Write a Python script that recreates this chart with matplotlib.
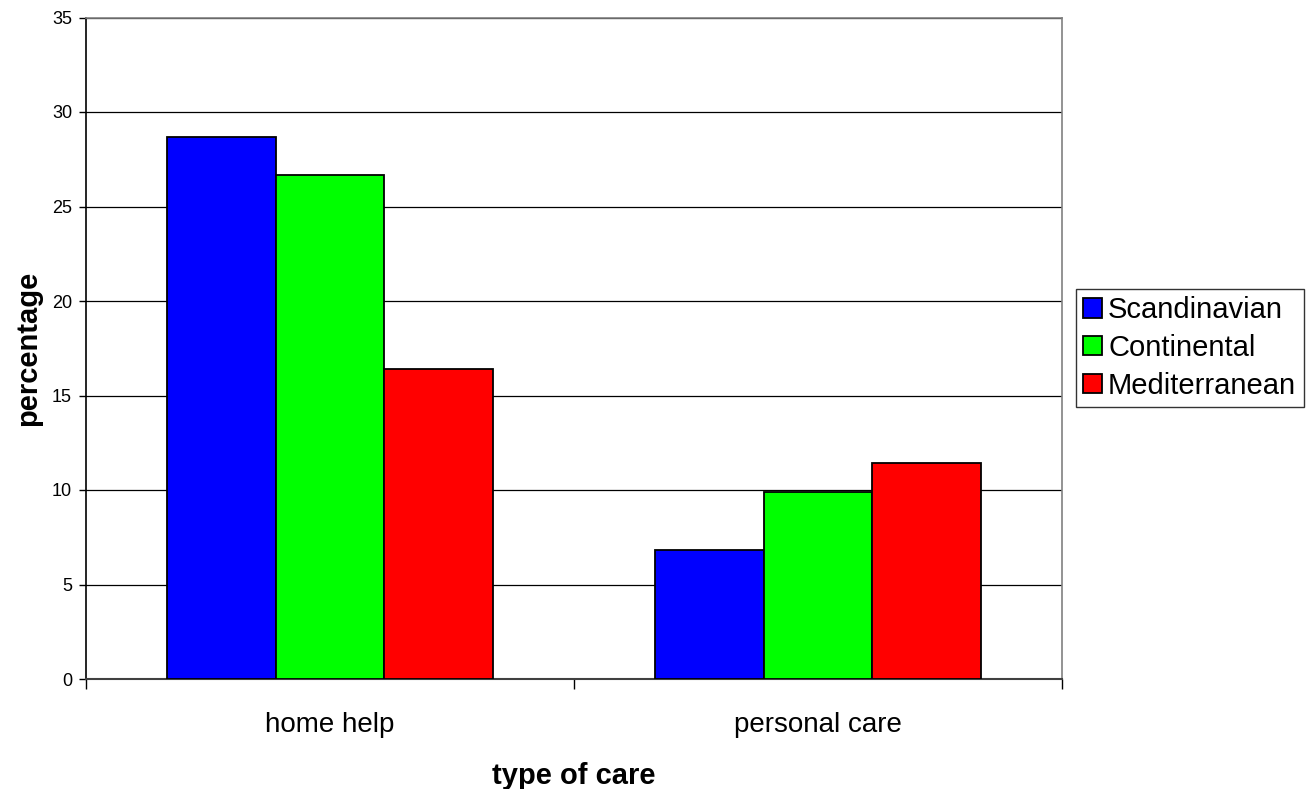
import numpy as np
import matplotlib
matplotlib.use("Agg")
import matplotlib.pyplot as plt

plt.rcParams['font.family'] = ['Liberation Sans', 'DejaVu Sans']

# data
care_types = ["home help", "personal care"]
regions = ["Scandinavian", "Continental", "Mediterranean"]
scandinavian = [28.7, 6.8]
continental = [26.65, 9.9]
mediterranean = [16.4, 11.45]
colours = ["#0000ff", "#00ff00", "#ff0000"]

fig = plt.figure(figsize=(13.09, 7.89), dpi=100)
W, H = 1309, 789
ax = fig.add_axes([86 / W, 1 - 679 / H, (1062 - 86) / W, (679 - 17.5) / H])

x = np.arange(len(care_types))
bw = 0.2227
for i, (vals, name) in enumerate(zip([scandinavian, continental, mediterranean], regions)):
    ax.bar(x + (i - 1) * bw, vals, width=bw, color=colours[i], edgecolor="black",
           linewidth=1.3, label=name, zorder=3)

ax.set_xlim(-0.5, 1.5)
ax.set_ylim(0, 35)
ax.set_yticks(np.arange(0, 36, 5))
ax.yaxis.grid(True, color="black", linewidth=0.9, zorder=0)
ax.set_axisbelow(True)

ax.set_xticks(x)
ax.set_xticklabels(care_types, fontsize=20)
ax.set_xticks([-0.5, 0.5, 1.5], minor=True)
ax.tick_params(axis="x", which="major", length=0, pad=24)
ax.tick_params(axis="x", which="minor", length=7, width=1, color="black", direction="out")
ax.tick_params(axis="y", labelsize=13, length=5, width=1, direction="out", pad=5)

for s in ["top", "right"]:
    ax.spines[s].set_color("#808080")
    ax.spines[s].set_linewidth(1.2)
ax.spines["left"].set_color("black")
ax.spines["left"].set_linewidth(1.2)
ax.spines["bottom"].set_color("#404040")
ax.spines["bottom"].set_linewidth(1.5)

ax.set_ylabel("percentage", fontsize=21, fontweight="bold", labelpad=7)
ax.set_xlabel("type of care", fontsize=21, fontweight="bold", labelpad=17)

leg = ax.legend(loc="center left", bbox_to_anchor=(1076 / W, 1 - 348 / H),
                bbox_transform=fig.transFigure, fontsize=21, frameon=True,
                fancybox=False, edgecolor="black", handlelength=0.65, handleheight=0.65,
                handletextpad=0.2, borderpad=0.25, labelspacing=0.33, borderaxespad=0)
leg.get_frame().set_linewidth(1.0)

fig.savefig("out.png", dpi=100)
